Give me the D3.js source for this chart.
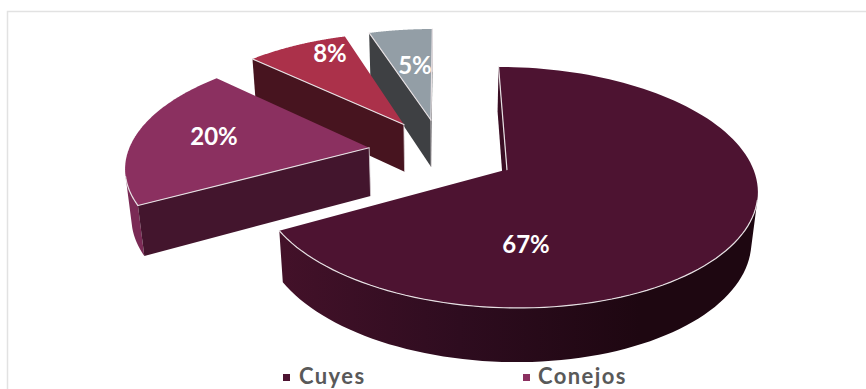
<!DOCTYPE html>
<html>
<head>
<meta charset="utf-8">
<script src="https://cdn.jsdelivr.net/npm/d3@7"></script>
<style>
  html, body { margin: 0; padding: 0; background: #fff; overflow: hidden; }
  svg { display: block; }
</style>
</head>
<body>
<div id="chart"></div>
<script>
// chart data
const categories = ['Cuyes', 'Conejos', 'Otros A', 'Otros B'];
const values = [67, 20, 8, 5];
const legendCategories = ['Cuyes', 'Conejos'];

const topColors = ['#4d1331', '#8b3060', '#ab314a', '#939ea6'];
const wallColors = [['#431129', '#2e0c1f', '#1e0711'], ['#7a2a55', '#7a2a55', '#7a2a55'],
                    ['#47141f', '#47141f', '#47141f'], ['#3e4043', '#3e4043', '#3e4043']];
const cutColors = ['#3a0e24', '#43152d', '#47141f', '#3e4043'];

// label spots in the page, Excel places these by hand
const labelSpots = [[526, 245], [214, 137], [330, 54], [415, 66]];
const legendSpots = [[283, 299], [523, 538]];

const width = 866, height = 389;

// perspective camera fitted to the picture
const cam = { x0: 442, y0: 152, a: 246, b: 112.7, c: 49.3, p: 0.145, q: 0.02 };
const explode = 0.3;
const rimScaleX = 0.98;

function project(u, v, down) {
    const w = 1 + cam.p * v + (down ? cam.q : 0);
    return [cam.x0 + cam.a * u / w, cam.y0 - (cam.b * v - (down ? cam.c : 0)) / w];
}

const svg = d3.select('#chart').append('svg')
    .attr('width', width)
    .attr('height', height);

// frame of the original slide
svg.append('path')
    .attr('d', `M7.5,${height}V11.5H${width}`)
    .attr('fill', 'none')
    .attr('stroke', '#e2e2e2')
    .attr('stroke-width', 1.5);

const defs = svg.append('defs');
const pie = d3.pie().sort(null).value(d => d);
const slices = pie(values);
const line = d3.line();

// a face looks at the camera when its screen polygon winds the right way
function facing(poly) {
    return d3.polygonArea(poly) > 0;
}

const pieGroup = svg.append('g');

// paint back to front
d3.range(slices.length - 1, -1, -1).forEach(i => {
    const s = slices[i];
    const mid = (s.startAngle + s.endAngle) / 2;
    const au = explode * Math.sin(mid), av = explode * Math.cos(mid);
    const rim = d3.range(0, 121).map(k => {
        const t = s.startAngle + (s.endAngle - s.startAngle) * k / 120;
        return [au + rimScaleX * Math.sin(t), av + Math.cos(t)];
    });
    const g = pieGroup.append('g');
    const edges = [];

    // outer wall, only the stretch of the rim that faces the camera
    const grad = defs.append('linearGradient')
        .attr('id', `wall-${i}`)
        .attr('gradientUnits', 'userSpaceOnUse')
        .attr('x1', 280).attr('x2', 640).attr('y1', 0).attr('y2', 0);
    wallColors[i].forEach((c, k) => {
        grad.append('stop').attr('offset', k / 2).attr('stop-color', c);
    });
    const upper = [], lower = [];
    for (let k = 0; k < 120; k++) {
        const a = rim[k], b = rim[k + 1];
        const quad = [project(a[0], a[1], false), project(b[0], b[1], false),
                      project(b[0], b[1], true), project(a[0], a[1], true)];
        if (!facing(quad)) continue;
        if (!upper.length) { upper.push(quad[0]); lower.push(quad[3]); }
        upper.push(quad[1]);
        lower.push(quad[2]);
    }
    if (upper.length) {
        g.append('path')
            .attr('d', line(upper.concat(lower.slice().reverse())) + 'Z')
            .attr('fill', `url(#wall-${i})`);
        edges.push(upper);
    }

    // the two cut faces
    [[rim[120], [au, av]], [[au, av], rim[0]]].forEach(([a, b]) => {
        const quad = [project(a[0], a[1], false), project(b[0], b[1], false),
                      project(b[0], b[1], true), project(a[0], a[1], true)];
        if (!facing(quad)) return;
        g.append('path')
            .attr('d', line(quad) + 'Z')
            .attr('fill', cutColors[i]);
        edges.push([quad[0], quad[1]]);
        g.append('path')
            .attr('d', line([quad[0], quad[3]]))
            .attr('stroke', '#d9d2d6')
            .attr('stroke-width', 0.8);
    });

    // top face
    const top = rim.map(p => project(p[0], p[1], false));
    top.push(project(au, av, false));
    g.append('path')
        .attr('d', line(top) + 'Z')
        .attr('fill', topColors[i]);

    // pale bevel where the top meets a visible wall
    edges.forEach(e => {
        g.append('path')
            .attr('d', line(e))
            .attr('fill', 'none')
            .attr('stroke', '#e6e0e3')
            .attr('stroke-width', 1.2)
            .attr('stroke-linecap', 'round');
    });
});

// percent labels
svg.append('g')
    .selectAll('text')
    .data(values)
    .join('text')
    .attr('x', (d, i) => labelSpots[i][0])
    .attr('y', (d, i) => labelSpots[i][1])
    .attr('dy', '0.35em')
    .attr('text-anchor', 'middle')
    .attr('font-family', 'Lato, sans-serif')
    .attr('font-weight', 700)
    .attr('font-size', 24)
    .attr('fill', '#fff')
    .text(d => d + '%');

// legend, the bottom of the slide cuts it short
const legend = svg.append('g')
    .selectAll('g')
    .data(legendCategories)
    .join('g');

legend.append('rect')
    .attr('x', (d, i) => legendSpots[i][0])
    .attr('y', 374)
    .attr('width', 7)
    .attr('height', 7)
    .attr('fill', (d, i) => topColors[i]);

legend.append('text')
    .attr('x', (d, i) => legendSpots[i][1])
    .attr('y', 384)
    .attr('font-family', 'Lato, sans-serif')
    .attr('font-weight', 700)
    .attr('font-size', 22)
    .attr('letter-spacing', 1.4)
    .attr('fill', '#595959')
    .text(d => d);
</script>
</body>
</html>
